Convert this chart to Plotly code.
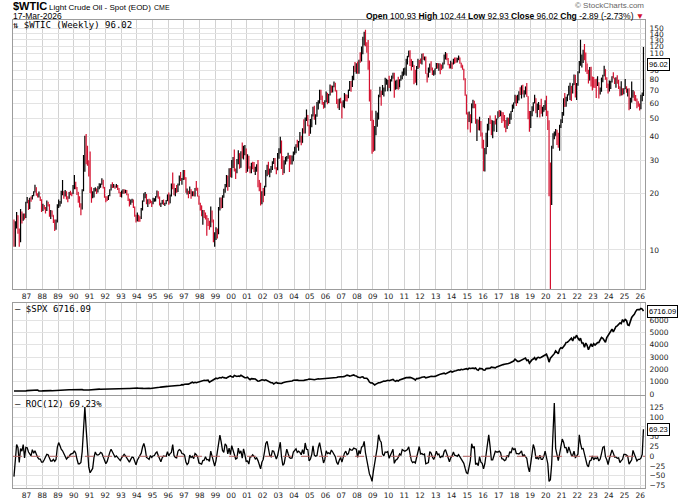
import numpy as np
import pandas as pd
import plotly.graph_objects as go

# ---- data: monthly bars, Mar 1986 .. Mar 2026 ----
first_month = "1986-03-01"
wti_open0 = 13.3  # Feb-1986 close, opens the first bar

wti_close = [
    10.5, 13.3, 15.2, 12.8, 11.2, 15.6, 14.5, 15.3, 15.0, 17.9,                 # 1986
    18.6, 16.6, 18.8, 18.7, 19.4, 20.3, 21.4, 19.7, 19.6, 19.9, 18.4, 16.7,     # 1987
    17.0, 16.7, 16.2, 17.8, 17.4, 15.2, 15.6, 15.3, 14.0, 13.5, 14.1, 17.2,     # 1988
    17.9, 17.9, 20.3, 20.4, 19.4, 20.3, 18.9, 18.8, 20.1, 19.9, 19.9, 21.8,     # 1989
    22.7, 21.5, 20.3, 18.5, 17.4, 17.1, 20.7, 27.3, 39.5, 35.2, 29.0, 28.4,     # 1990
    21.5, 19.0, 19.6, 20.9, 21.1, 20.3, 21.5, 22.2, 22.3, 23.3, 21.5, 19.1,     # 1991
    18.9, 18.7, 19.4, 20.8, 22.1, 21.6, 21.9, 21.6, 21.9, 21.2, 20.3, 19.5,     # 1992
    20.3, 20.6, 20.4, 20.6, 19.8, 18.6, 17.5, 18.2, 18.3, 16.9, 15.2, 14.2,     # 1993
    15.2, 14.8, 14.7, 16.4, 18.2, 19.3, 19.7, 17.7, 18.4, 18.2, 18.1, 17.8,     # 1994
    18.4, 18.5, 19.2, 20.4, 18.9, 17.4, 17.6, 18.2, 17.5, 17.6, 18.2, 19.6,     # 1995
    17.7, 19.5, 21.5, 21.2, 19.8, 20.9, 20.4, 22.3, 24.4, 23.4, 23.8, 25.9,     # 1996
    24.2, 20.3, 20.4, 20.2, 20.9, 19.8, 20.1, 19.6, 21.2, 21.0, 19.3, 17.6,     # 1997
    17.2, 15.4, 15.6, 15.4, 15.2, 14.2, 14.2, 13.3, 16.1, 14.4, 11.2, 12.1,     # 1998
    12.8, 12.3, 16.8, 18.7, 16.8, 19.3, 20.5, 22.1, 24.5, 21.8, 26.8, 25.6,     # 1999
    27.6, 30.4, 26.9, 25.7, 29.0, 32.5, 27.4, 33.1, 30.8, 32.7, 34.4, 26.8,     # 2000
    28.7, 27.4, 26.3, 28.5, 28.4, 26.3, 26.4, 27.2, 23.4, 21.2, 19.4, 19.8,     # 2001
    19.5, 21.7, 26.3, 27.3, 25.3, 26.9, 27.0, 28.9, 30.5, 27.2, 26.9, 31.2,     # 2002
    33.5, 36.6, 31.0, 25.8, 29.6, 30.2, 30.5, 31.6, 29.2, 29.1, 30.4, 32.5,     # 2003
    33.1, 36.2, 35.8, 37.4, 39.9, 37.1, 43.8, 42.1, 49.6, 51.8, 49.1, 43.5,     # 2004
    48.2, 51.8, 55.4, 49.7, 52.0, 56.5, 60.6, 68.9, 66.2, 59.8, 57.3, 61.0,     # 2005
    67.9, 61.4, 66.6, 71.9, 71.3, 74.0, 74.4, 70.3, 62.9, 58.7, 63.1, 61.1,     # 2006
    58.1, 61.8, 65.9, 65.7, 64.0, 70.7, 78.2, 74.0, 81.7, 94.5, 88.7, 96.0,     # 2007
    91.8, 101.8, 101.6, 113.5, 127.4, 140.0, 124.1, 115.5, 100.6, 67.8, 54.4, 44.6,  # 2008
    41.7, 44.8, 49.7, 51.1, 66.3, 69.9, 69.5, 70.0, 70.6, 77.0, 77.3, 79.4,     # 2009
    72.9, 79.7, 83.8, 86.2, 74.0, 75.6, 79.0, 71.9, 80.0, 81.4, 84.1, 91.4,     # 2010
    92.2, 97.0, 106.7, 113.9, 102.7, 95.4, 95.7, 88.8, 79.2, 93.2, 100.4, 98.8, # 2011
    98.5, 107.1, 103.0, 104.9, 86.5, 85.0, 88.1, 96.5, 92.2, 86.2, 88.9, 91.8,  # 2012
    97.5, 92.1, 97.2, 93.5, 92.0, 96.6, 105.0, 107.7, 102.3, 96.4, 92.7, 98.4,  # 2013
    97.5, 102.6, 101.6, 99.7, 102.7, 105.4, 98.2, 96.0, 91.2, 80.5, 66.2, 53.3, # 2014
    48.2, 49.8, 47.6, 59.6, 60.3, 59.5, 47.1, 49.2, 45.1, 46.6, 41.7, 37.0,     # 2015
    33.6, 33.8, 38.3, 45.9, 49.1, 48.3, 41.6, 44.7, 48.2, 46.9, 49.4, 53.7,     # 2016
    52.8, 54.0, 50.6, 49.3, 48.3, 46.0, 50.2, 47.2, 51.7, 54.4, 57.4, 60.4,     # 2017
    64.7, 61.6, 64.9, 68.6, 67.0, 74.2, 68.8, 69.8, 73.3, 65.3, 50.9, 45.4,     # 2018
    53.8, 57.2, 60.1, 63.9, 53.5, 58.5, 58.6, 55.1, 54.1, 54.2, 55.2, 61.1,     # 2019
    51.6, 44.8, 20.5, 18.8, 35.5, 39.3, 40.3, 42.6, 40.2, 35.8, 45.3, 48.5,     # 2020
    52.2, 61.5, 59.2, 63.6, 66.3, 73.5, 74.0, 68.5, 75.0, 83.6, 66.2, 75.2,     # 2021
    88.2, 95.7, 100.3, 104.7, 114.7, 105.8, 98.6, 89.6, 79.5, 86.5, 80.6, 80.3, # 2022
    78.9, 77.1, 75.7, 76.8, 68.1, 70.6, 81.8, 83.6, 90.8, 81.0, 76.0, 71.7,     # 2023
    75.9, 78.3, 83.2, 81.9, 77.0, 81.5, 77.9, 73.6, 68.2, 69.3, 68.0, 71.7,     # 2024
    72.5, 69.8, 71.5, 58.2, 60.8, 65.1, 69.3, 64.0, 62.4, 61.0, 58.6, 57.4,     # 2025
    65.2, 67.0, 96.02,                                                          # 2026
]

wti_high = [
    14.5, 14.2, 15.9, 15.3, 13.0, 16.5, 16.0, 15.6, 15.6, 18.0,
    19.1, 18.4, 18.9, 19.2, 19.6, 20.5, 22.2, 21.5, 20.0, 20.4, 19.2, 18.6,
    17.6, 17.3, 16.9, 18.3, 18.0, 17.5, 16.3, 16.2, 15.3, 14.5, 14.5, 17.5,
    18.5, 18.2, 20.6, 23.5, 20.5, 20.8, 20.5, 19.3, 20.3, 20.6, 20.2, 22.1,
    25.0, 23.0, 21.6, 20.3, 19.3, 17.7, 21.0, 31.9, 40.4, 41.2, 35.7, 29.9,
    33.3, 21.5, 20.5, 21.3, 21.5, 21.2, 21.8, 22.6, 22.5, 24.0, 23.6, 21.6,
    19.3, 19.3, 19.6, 21.0, 22.3, 22.9, 22.4, 22.0, 22.4, 22.1, 21.3, 20.3,
    20.7, 21.0, 21.0, 20.9, 20.8, 19.9, 18.7, 18.5, 18.7, 18.5, 17.0, 15.4,
    15.8, 15.4, 15.1, 16.7, 18.3, 20.0, 20.3, 19.8, 18.6, 18.7, 18.5, 18.2,
    18.9, 18.8, 19.3, 20.7, 20.5, 19.2, 17.8, 18.4, 18.5, 17.8, 18.4, 19.7,
    20.2, 19.7, 22.5, 25.8, 22.5, 21.3, 22.1, 22.5, 24.8, 25.9, 24.1, 26.6,
    26.6, 24.3, 21.2, 20.6, 21.7, 21.0, 20.5, 20.5, 21.3, 23.2, 21.4, 19.4,
    17.8, 17.2, 16.3, 16.3, 15.8, 15.3, 14.8, 14.3, 17.0, 16.2, 14.5, 12.4,
    13.2, 13.0, 16.9, 19.0, 19.0, 19.5, 21.1, 22.4, 25.0, 24.8, 27.1, 27.2,
    30.0, 31.1, 34.1, 27.0, 30.4, 33.8, 32.6, 33.4, 37.2, 35.7, 36.0, 34.5,
    32.2, 31.6, 27.8, 29.0, 29.4, 29.3, 27.6, 28.5, 30.0, 23.5, 22.7, 20.5,
    21.3, 21.9, 26.6, 28.3, 29.4, 27.0, 27.9, 29.6, 30.8, 30.8, 27.5, 32.7,
    34.6, 39.9, 38.1, 31.5, 29.9, 31.2, 31.5, 32.8, 31.8, 31.8, 31.7, 33.3,
    35.3, 36.4, 38.4, 37.9, 42.3, 40.4, 44.2, 49.4, 50.5, 55.7, 52.0, 46.2,
    49.5, 52.5, 57.6, 58.3, 52.5, 60.9, 62.3, 70.9, 70.8, 65.8, 60.9, 62.3,
    69.2, 68.0, 67.2, 75.4, 74.6, 74.4, 78.4, 77.1, 70.4, 63.0, 63.7, 64.3,
    61.4, 62.3, 68.1, 67.0, 66.7, 70.7, 78.8, 78.7, 84.1, 94.7, 99.3, 97.8,
    100.1, 102.1, 111.8, 119.9, 135.1, 143.7, 147.3, 126.6, 130.0, 101.1, 71.1, 55.0,
    49.0, 45.4, 54.7, 53.6, 66.5, 73.4, 70.0, 75.0, 72.8, 82.0, 81.0, 80.0,
    84.0, 80.5, 83.9, 87.1, 87.2, 79.3, 79.9, 82.9, 80.4, 84.5, 88.6, 92.0,
    93.0, 103.4, 106.9, 113.9, 114.8, 102.6, 100.6, 95.6, 90.5, 94.7, 103.4, 101.8,
    103.7, 109.8, 110.6, 106.1, 106.4, 86.5, 92.9, 97.7, 100.4, 92.9, 89.7, 91.9,
    98.2, 98.2, 97.9, 97.7, 96.4, 98.9, 108.9, 112.2, 110.7, 104.2, 96.9, 100.8,
    98.9, 103.3, 104.9, 104.9, 104.5, 107.7, 105.1, 98.6, 95.6, 91.5, 81.5, 66.9,
    53.7, 54.2, 52.5, 59.9, 62.6, 61.9, 59.4, 49.4, 49.0, 50.9, 48.4, 42.0,
    38.4, 34.7, 41.9, 46.8, 50.2, 51.7, 49.0, 48.8, 48.4, 51.9, 49.9, 54.5,
    55.2, 54.9, 54.0, 53.8, 52.0, 48.9, 50.4, 50.2, 52.9, 54.6, 59.1, 60.5,
    66.7, 66.0, 66.6, 69.6, 72.9, 74.5, 75.3, 70.4, 73.6, 76.9, 65.3, 54.6,
    54.6, 57.8, 60.7, 66.6, 63.8, 59.9, 60.9, 58.8, 63.4, 57.5, 58.7, 62.3,
    65.7, 54.7, 48.7, 29.1, 35.7, 41.6, 42.5, 43.8, 43.4, 41.9, 46.2, 49.4,
    53.9, 63.8, 68.0, 64.9, 67.0, 74.4, 77.0, 74.0, 76.7, 85.4, 85.0, 76.9,
    88.8, 100.5, 130.5, 109.0, 115.5, 123.7, 111.5, 97.7, 90.4, 93.6, 93.7, 83.3,
    82.7, 80.6, 80.9, 83.5, 77.6, 72.7, 82.0, 84.9, 95.0, 91.0, 82.4, 76.2,
    79.3, 79.1, 83.5, 87.7, 81.6, 82.4, 84.5, 80.1, 73.6, 78.5, 72.0, 72.1,
    80.8, 73.8, 71.7, 72.2, 64.2, 78.4, 70.5, 69.4, 66.4, 63.6, 61.5, 59.9,
    66.5, 68.5, 119.5,
]

wti_low = [
    10.4, 10.4, 13.0, 12.2, 10.4, 11.0, 13.8, 14.3, 14.5, 14.8,
    17.7, 16.3, 16.5, 18.0, 18.5, 19.3, 20.2, 19.4, 19.0, 19.0, 18.2, 15.9,
    16.1, 16.4, 15.6, 16.1, 17.0, 15.0, 14.6, 15.0, 13.9, 12.6, 12.8, 14.0,
    16.7, 17.0, 17.6, 19.5, 18.7, 19.2, 18.5, 17.9, 18.7, 19.5, 19.3, 19.8,
    21.0, 21.0, 19.6, 17.8, 16.8, 15.3, 16.4, 20.5, 26.0, 28.5, 28.0, 24.5,
    20.0, 17.8, 18.8, 19.0, 20.4, 19.8, 20.2, 21.0, 21.4, 22.2, 21.2, 18.9,
    17.9, 18.2, 18.4, 19.3, 20.7, 21.3, 21.4, 21.1, 21.4, 20.8, 20.0, 19.1,
    19.0, 19.9, 19.9, 20.0, 19.5, 18.2, 17.0, 17.4, 17.8, 16.7, 15.0, 14.0,
    14.2, 14.1, 14.1, 14.6, 16.2, 18.0, 18.8, 17.5, 16.9, 17.5, 17.7, 16.9,
    17.5, 18.0, 18.1, 19.0, 18.7, 17.2, 16.9, 17.5, 17.3, 17.1, 17.5, 18.2,
    17.4, 17.7, 19.2, 21.0, 19.5, 19.3, 20.1, 20.3, 22.0, 23.2, 22.2, 23.5,
    23.6, 20.1, 19.7, 18.8, 19.8, 18.7, 19.3, 19.3, 19.2, 20.6, 19.2, 17.4,
    16.2, 15.1, 13.6, 14.8, 14.5, 11.9, 13.4, 12.8, 13.2, 14.0, 11.0, 10.4,
    11.3, 11.5, 12.1, 16.2, 16.6, 16.7, 18.9, 20.1, 21.5, 20.6, 21.6, 24.3,
    24.2, 27.2, 26.1, 23.8, 25.5, 28.5, 27.0, 27.3, 30.6, 30.2, 31.8, 25.6,
    26.0, 27.0, 25.5, 25.5, 26.8, 25.9, 25.0, 26.0, 21.5, 20.5, 17.2, 17.5,
    17.9, 19.4, 21.5, 24.6, 25.1, 24.3, 25.7, 26.6, 28.6, 26.8, 25.2, 26.5,
    30.5, 32.5, 26.9, 25.0, 25.5, 28.4, 29.5, 30.5, 25.9, 28.4, 28.4, 29.6,
    32.0, 32.6, 35.0, 33.6, 37.2, 35.9, 37.0, 41.5, 41.5, 48.4, 45.3, 40.2,
    41.3, 44.8, 51.0, 49.0, 46.2, 50.9, 55.7, 59.9, 62.5, 59.0, 56.2, 56.8,
    60.8, 59.3, 60.2, 65.9, 68.3, 68.4, 72.9, 69.3, 59.5, 56.4, 55.3, 60.0,
    49.9, 57.1, 56.4, 61.6, 61.3, 64.0, 69.8, 69.1, 73.1, 79.5, 87.8, 86.1,
    86.1, 86.1, 98.6, 100.1, 109.1, 121.6, 120.4, 111.3, 90.5, 61.3, 48.3, 32.4,
    33.2, 33.6, 40.6, 45.1, 49.2, 64.6, 58.3, 66.3, 65.1, 69.2, 75.2, 69.5,
    72.4, 69.5, 78.4, 80.9, 64.2, 70.8, 71.5, 70.8, 72.8, 79.0, 80.4, 84.1,
    85.1, 84.1, 96.4, 105.4, 94.6, 89.6, 93.6, 75.7, 77.1, 74.9, 91.2, 92.5,
    97.3, 96.4, 102.0, 101.1, 86.1, 77.3, 82.1, 87.0, 89.5, 84.7, 84.0, 85.1,
    91.5, 91.8, 89.3, 85.6, 90.0, 91.9, 96.6, 102.3, 101.6, 95.5, 91.8, 91.8,
    91.2, 96.5, 97.4, 98.5, 98.8, 101.6, 97.2, 92.5, 90.4, 79.4, 65.7, 52.4,
    43.6, 47.8, 42.0, 47.0, 56.5, 56.4, 46.7, 37.8, 43.2, 43.0, 40.0, 34.5,
    26.2, 26.1, 32.2, 35.2, 43.0, 46.6, 40.6, 39.2, 42.5, 46.3, 42.2, 49.9,
    50.7, 51.2, 47.1, 48.2, 44.5, 42.1, 43.8, 45.6, 46.6, 49.1, 53.9, 56.1,
    59.9, 58.1, 60.0, 62.1, 66.4, 63.6, 66.9, 64.4, 66.9, 64.9, 49.4, 42.4,
    44.4, 51.2, 54.5, 60.1, 53.1, 50.6, 55.3, 50.5, 52.8, 51.0, 54.1, 55.3,
    51.3, 43.3, 19.3, 6.0, 17.3, 34.4, 38.7, 40.3, 36.1, 34.9, 33.6, 44.4,
    47.2, 51.6, 57.3, 57.6, 61.6, 66.1, 62.4, 61.7, 67.6, 75.0, 64.4, 62.4,
    74.3, 86.5, 95.0, 92.9, 98.2, 101.5, 88.2, 85.7, 76.3, 79.3, 73.6, 70.1,
    72.5, 72.3, 64.1, 74.0, 63.6, 66.8, 69.0, 77.6, 83.5, 80.1, 72.4, 67.7,
    69.3, 71.4, 77.3, 81.2, 76.0, 72.5, 76.1, 71.5, 65.3, 66.0, 66.1, 67.0,
    71.2, 68.3, 65.2, 55.1, 56.0, 60.6, 64.2, 61.9, 61.5, 56.4, 57.5, 54.9,
    55.8, 61.5, 65.5,
]

spx_close = [
    238.9, 235.5, 247.4, 250.8, 236.1, 252.9, 231.3, 244.0, 249.2, 242.2,
    274.1, 284.2, 291.7, 288.4, 290.1, 304.0, 318.7, 329.8, 321.8, 251.8, 230.3, 247.1,
    257.1, 267.8, 258.9, 261.3, 262.2, 273.5, 272.0, 261.5, 271.9, 279.0, 273.7, 277.7,
    297.5, 288.9, 294.9, 309.6, 320.5, 318.0, 346.1, 351.5, 349.2, 340.4, 346.0, 353.4,
    329.1, 331.9, 339.9, 330.8, 361.2, 358.0, 356.2, 322.6, 306.1, 304.0, 322.2, 330.2,
    343.9, 367.1, 375.2, 375.3, 389.8, 371.2, 387.8, 395.4, 387.9, 392.5, 375.2, 417.1,
    408.8, 412.7, 403.7, 415.0, 415.4, 408.1, 424.2, 414.0, 417.8, 418.7, 431.4, 435.7,
    438.8, 443.4, 451.7, 440.2, 450.2, 450.5, 448.1, 463.6, 458.9, 467.8, 461.8, 466.5,
    481.6, 467.1, 445.8, 450.9, 456.5, 444.3, 458.3, 475.5, 462.7, 472.4, 453.7, 459.3,
    470.4, 487.4, 500.7, 514.7, 533.4, 544.8, 562.1, 561.9, 584.4, 581.5, 605.4, 615.9,
    636.0, 640.4, 645.5, 654.2, 669.1, 670.6, 640.0, 652.0, 687.3, 705.3, 757.0, 740.7,
    786.2, 790.8, 757.1, 801.3, 848.3, 885.1, 954.3, 899.5, 947.3, 914.6, 955.4, 970.4,
    980.3, 1049.3, 1101.8, 1111.8, 1090.8, 1133.8, 1120.7, 957.3, 1017.0, 1098.7, 1163.6, 1229.2,
    1279.6, 1238.3, 1286.4, 1335.2, 1301.8, 1372.7, 1328.7, 1320.4, 1282.7, 1362.9, 1388.9, 1469.3,
    1394.5, 1366.4, 1498.6, 1452.4, 1420.6, 1454.6, 1430.8, 1517.7, 1436.5, 1429.4, 1315.2, 1320.3,
    1366.0, 1239.9, 1160.3, 1249.5, 1255.8, 1224.4, 1211.2, 1133.6, 1040.9, 1059.8, 1139.5, 1148.1,
    1130.2, 1106.7, 1147.4, 1076.9, 1067.1, 989.8, 911.6, 916.1, 815.3, 885.8, 936.3, 879.8,
    855.7, 841.2, 848.2, 916.9, 963.6, 974.5, 990.3, 1008.0, 996.0, 1050.7, 1058.2, 1111.9,
    1131.1, 1144.9, 1126.2, 1107.3, 1120.7, 1140.8, 1101.7, 1104.2, 1114.6, 1130.2, 1173.8, 1211.9,
    1181.3, 1203.6, 1180.6, 1156.9, 1191.5, 1191.3, 1234.2, 1220.3, 1228.8, 1207.0, 1249.5, 1248.3,
    1280.1, 1280.7, 1294.9, 1310.6, 1270.1, 1270.2, 1276.7, 1303.8, 1335.9, 1377.9, 1400.6, 1418.3,
    1438.2, 1406.8, 1420.9, 1482.4, 1530.6, 1503.4, 1455.3, 1474.0, 1526.8, 1549.4, 1481.1, 1468.4,
    1378.6, 1330.6, 1322.7, 1385.6, 1400.4, 1280.0, 1267.4, 1282.8, 1166.4, 968.8, 896.2, 903.3,
    825.9, 735.1, 797.9, 872.8, 919.1, 919.3, 987.5, 1020.6, 1057.1, 1036.2, 1095.6, 1115.1,
    1073.9, 1104.5, 1169.4, 1186.7, 1089.4, 1030.7, 1101.6, 1049.3, 1141.2, 1183.3, 1180.6, 1257.6,
    1286.1, 1327.2, 1325.8, 1363.6, 1345.2, 1320.6, 1292.3, 1218.9, 1131.4, 1253.3, 1247.0, 1257.6,
    1312.4, 1365.7, 1408.5, 1397.9, 1310.3, 1362.2, 1379.3, 1406.6, 1440.7, 1412.2, 1416.2, 1426.2,
    1498.1, 1514.7, 1569.2, 1597.6, 1630.7, 1606.3, 1685.7, 1633.0, 1681.6, 1756.5, 1805.8, 1848.4,
    1782.6, 1859.5, 1872.3, 1884.0, 1923.6, 1960.2, 1930.7, 2003.4, 1972.3, 2018.1, 2067.6, 2058.9,
    1995.0, 2104.5, 2067.9, 2085.5, 2107.4, 2063.1, 2103.8, 1972.2, 1920.0, 2079.4, 2080.4, 2043.9,
    1940.2, 1932.2, 2059.7, 2065.3, 2097.0, 2098.9, 2173.6, 2171.0, 2168.3, 2126.2, 2198.8, 2238.8,
    2278.9, 2363.6, 2362.7, 2384.2, 2411.8, 2423.4, 2470.3, 2471.7, 2519.4, 2575.3, 2647.6, 2673.6,
    2823.8, 2713.8, 2640.9, 2648.1, 2705.3, 2718.4, 2816.3, 2901.5, 2914.0, 2711.7, 2760.2, 2506.9,
    2704.1, 2784.5, 2834.4, 2945.8, 2752.1, 2941.8, 2980.4, 2926.5, 2976.7, 3037.6, 3141.0, 3230.8,
    3225.5, 2954.2, 2584.6, 2912.4, 3044.3, 3100.3, 3271.1, 3500.3, 3363.0, 3270.0, 3621.6, 3756.1,
    3714.2, 3811.2, 3972.9, 4181.2, 4204.1, 4297.5, 4395.3, 4522.7, 4307.5, 4605.4, 4567.0, 4766.2,
    4515.6, 4373.9, 4530.4, 4131.9, 4132.2, 3785.4, 4130.3, 3955.0, 3585.6, 3872.0, 4080.1, 3839.5,
    4076.6, 3970.2, 4109.3, 4169.5, 4179.8, 4450.4, 4589.0, 4507.7, 4288.1, 4193.8, 4567.8, 4769.8,
    4845.7, 5096.3, 5254.4, 5035.7, 5277.5, 5460.5, 5522.3, 5648.4, 5762.5, 5705.5, 6032.4, 5881.6,
    6040.5, 5954.5, 5611.9, 5569.1, 5911.7, 6205.0, 6339.4, 6460.3, 6688.5, 6840.2, 6849.1, 6845.5,
    6939.0, 6880.0, 6716.09,
]

roc12 = [
    -52, -10, 30, 22, -16, 20, 13, 30, -4, 23,
    22, 11, 5, 1, 17, 8, 14, 2, -3, -7, -7, -15,
    -15, -9, -3, 5, 4, -6, -12, -12, -8, -13, -8, 23,
    35, 27, 18, 14, 8, 0, -7, -3, -1, 5, 6, 8,
    14, 8, -7, -19, -19, -16, 12, 57, 126, 70, 6, -28,
    -42, -34, -31, -3, 11, 4, 3, 5, 10, 8, -3, -14,
    -19, -13, 2, 10, 18, 11, 5, -2, 1, -3, -6, -11,
    -4, 1, 5, 1, -4, -9, -15, -8, -2, -3, -16, -22,
    -10, -3, 4, 8, 23, 33, 20, -3, -5, -8, 2, -3,
    1, 2, 8, 11, 2, -9, -14, -4, 1, 0, 0, 12,
    1, 7, 10, 30, 2, -3, -4, 13, 17, 15, 7, 6,
    3, -15, -21, -17, 3, -3, 0, -6, 7, 4, -2, -17,
    -18, -20, -11, -10, -1, -9, -8, -13, 13, 1, -16, -25,
    -11, 10, 39, 54, 37, 15, 10, 32, 27, 6, 21, 4,
    27, 13, 5, -7, -5, 21, 7, 14, -5, 19, 4, -13,
    -12, -20, -2, -1, 4, 0, -7, -4, -11, -20, -32, -15,
    -8, 12, 33, 38, 17, 2, -1, 14, 13, 1, -7, 2,
    23, 36, -1, -23, -19, -3, 18, 7, -3, -5, -4, 11,
    14, 19, 10, 13, 10, 4, 17, 6, 34, 18, 17, -12,
    -7, 5, 27, 3, 0, 2, 22, 35, 17, -1, -17, -8,
    14, 7, 9, 6, 16, 11, 3, -1, -15, -21, -10, -3,
    -15, -2, 8, 13, 4, 7, 19, 16, 16, 21, 20, 18,
    -3, 15, 6, 24, 25, 38, 9, -9, -28, -45, -53, -64,
    -38, -18, 11, 23, 55, 41, 36, 6, 1, 11, 10, 12,
    -5, 3, 6, 18, -18, -10, -8, -3, 6, 3, 17, 14,
    13, 15, 17, 24, 6, -11, -16, -14, -17, -3, 13, 25,
    6, 7, 4, 6, -19, -17, -16, 12, 8, -2, -8, 0,
    13, 4, 6, -4, 0, -1, 12, 17, 6, -8, -14, -4,
    1, 11, 3, 2, 0, 4, -2, -7, -13, -18, -31, -42,
    -44, -25, -11, 32, 21, 25, -21, -18, -24, -1, -15, -18,
    -32, -19, 4, 37, 55, 26, -9, -9, 0, 13, 11, 11,
    13, 9, -6, -7, -11, -9, 2, -2, 12, 8, 22, 17,
    19, 7, 7, 6, 9, 14, 0, 4, -1, -5, -27, -40,
    -18, 12, 30, 19, -6, -3, -8, 3, -8, -8, 0, 13,
    -5, -19, -64, -60, -20, 60, 136, 20, 2, -11, 6, 21,
    44, 36, 22, 22, 8, 24, 16, 3, 2, 13, -3, 0,
    6, 55, 33, 19, 20, 5, -6, -22, -27, -12, -10, 1,
    -9, -4, -6, -3, -12, -7, 7, 23, 25, -1, -9, -21,
    -6, 3, 16, 8, -2, -2, -5, -4, -16, -11, -8, 5,
    5, 3, 0, -20, -13, -9, 15, 5, -4, -12, -8, -8,
    -5, 5, 69.23,
]

price_ticks = [10, 20, 30, 40, 50, 60, 70, 80, 90, 100, 110, 120, 130, 140, 150]
spx_ticks = [0, 1000, 2000, 3000, 4000, 5000, 6000]
roc_ticks = [-75, -50, -25, 0, 25, 50, 75, 100, 125]

n = len(wti_close)
lens = [len(wti_high), len(wti_low), len(spx_close), len(roc12)]
assert all(l == n for l in lens), (n, lens)

months = pd.date_range(first_month, periods=n, freq="MS") + pd.Timedelta(days=14)
wti_open = [wti_open0] + wti_close[:-1]

# ---- layout in pixels ----
W, H = 680, 501
ML, MR, MT, MB = 13, 35, 20, 13
PW, PH = W - ML - MR, H - MT - MB


def px(x):
    return (x - ML) / PW


def py(y):
    return (H - MB - y) / PH


RED = "#d4112f"
GRID_V = "#d2d2d2"
GRID_H = "#e3e3e3"
BORDER = "#9c9c9c"
TICKFONT = dict(family="DejaVu Sans", size=7.5, color="#222222")
MONO = "DejaVu Sans Mono"
SANS = "Liberation Sans, Arial"

fig = go.Figure()

fig.add_trace(go.Ohlc(
    x=months, open=wti_open, high=wti_high, low=wti_low, close=wti_close,
    increasing=dict(line=dict(color="#000000", width=1.2)),
    decreasing=dict(line=dict(color=RED, width=1.2)),
    tickwidth=0.3, xaxis="x", yaxis="y", hoverinfo="skip",
))
fig.add_trace(go.Scatter(
    x=months, y=spx_close, mode="lines",
    line=dict(color="#000000", width=1.6), xaxis="x2", yaxis="y2",
))
fig.add_trace(go.Scatter(
    x=months, y=roc12, mode="lines",
    line=dict(color="#000000", width=1.3), xaxis="x3", yaxis="y3",
))

xcommon = dict(
    type="date", range=["1986-02-20", "2026-04-20"],
    dtick="M12", tick0="1987-01-01", tickformat="%y",
    showgrid=True, gridcolor=GRID_V, gridwidth=1,
    showline=True, linecolor=BORDER, mirror=True,
    ticks="", tickfont=TICKFONT, automargin=False, fixedrange=True,
)
ycommon = dict(
    side="right", showgrid=True, gridcolor=GRID_H, gridwidth=1,
    showline=True, linecolor=BORDER, mirror=True, zeroline=False,
    ticks="", tickfont=TICKFONT, automargin=False, fixedrange=True,
    ticklabelstandoff=2,
)

fig.update_layout(
    width=W, height=H,
    margin=dict(l=ML, r=MR, t=MT, b=MB),
    paper_bgcolor="white", plot_bgcolor="white",
    showlegend=False,
    xaxis=dict(xcommon, anchor="y", rangeslider=dict(visible=False)),
    xaxis2=dict(xcommon, anchor="y2", matches="x", showticklabels=False),
    xaxis3=dict(xcommon, anchor="y3", matches="x"),
    yaxis=dict(ycommon, type="log", domain=[py(289), 1],
               range=[0.793, 2.22], tickvals=price_ticks,
               ticktext=[str(v) for v in price_ticks]),
    yaxis2=dict(ycommon, domain=[py(395), py(303)], range=[-80, 7380],
                tickvals=spx_ticks),
    yaxis3=dict(ycommon, domain=[0, py(396)], range=[-81, 154],
                tickvals=roc_ticks),
)

# dashed zero line in the ROC panel
fig.add_shape(type="line", xref="x3 domain", yref="y3", x0=0, x1=1, y0=0, y1=0,
              line=dict(color="#b06060", width=1, dash="dash"))


def note(text, x, y, size=8, family=SANS, color="#000000", xanchor="left"):
    fig.add_annotation(text=text, xref="paper", yref="paper", x=px(x), y=py(y),
                       xanchor=xanchor, yanchor="middle", showarrow=False,
                       font=dict(family=family, size=size, color=color))


# header
note("<b>$WTIC</b>", 11, 6, size=11)
note("Light Crude Oil - Spot (EOD)", 47, 7, size=8)
note("CME", 152, 7, size=7)
note("17-Mar-2026", 11, 15.5, size=8.5)
note("© StockCharts.com", 646, 5.5, size=8, color="#666666", xanchor="right")
note("<b>Open</b> 100.93 <b>High</b> 102.44 <b>Low</b> 92.93 <b>Close</b> 96.02 "
     "<b>Chg</b> -2.89 (-2.73%) <span style='color:" + RED + "'>▼</span>",
     646, 15.5, size=8.5, xanchor="right")

# panel legends
note("⇅ $WTIC (Weekly) 96.02", 11, 25.5, size=9, family=MONO)
note("— $SPX 6716.09", 13, 309, size=9, family=MONO)
note("— ROC(12) 69.23%", 13, 404, size=9, family=MONO)


# last-value tags
def tag(text, yref, yval):
    fig.add_annotation(text=text, xref="paper", yref=yref, x=px(647), y=yval,
                       xanchor="left", yanchor="middle", showarrow=False,
                       bgcolor="white", bordercolor="#000000", borderwidth=1,
                       borderpad=1, font=dict(family=SANS, size=7.5, color="#000000"))


tag("%.2f" % wti_close[-1], "y", np.log10(wti_close[-1]))
tag("%.2f" % spx_close[-1], "y2", spx_close[-1])
tag("%.2f" % roc12[-1], "y3", roc12[-1])

fig.write_html("out.html", config={"displayModeBar": False},
               post_script="document.body.style.margin='0';")
